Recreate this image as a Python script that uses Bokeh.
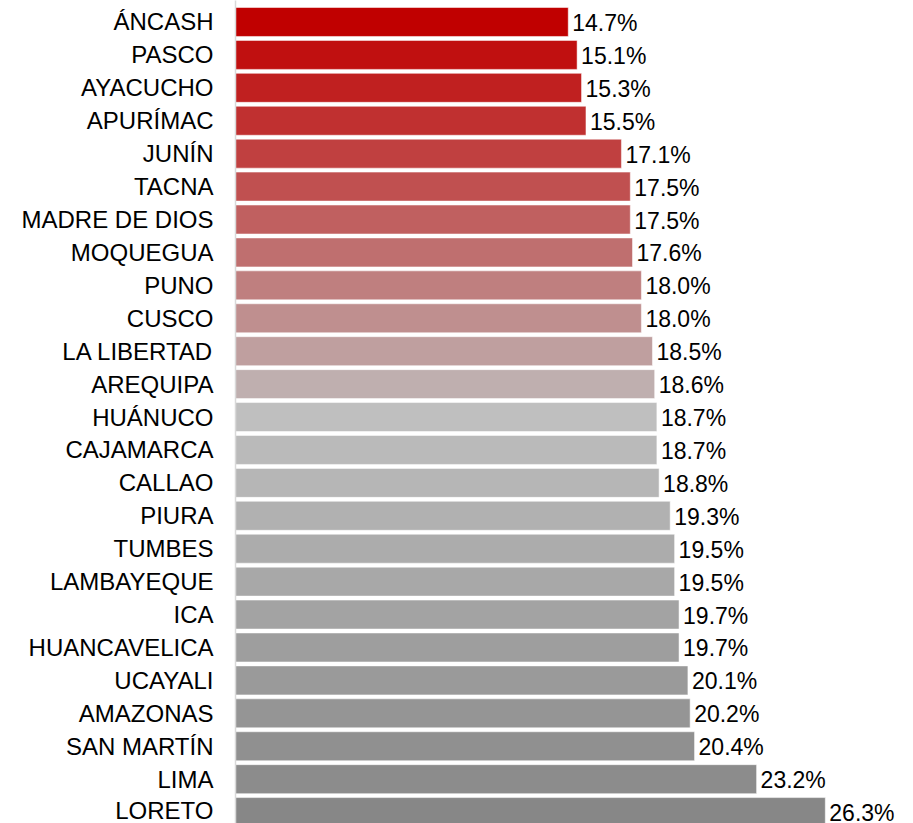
from bokeh.plotting import figure
from bokeh.models import Range1d, FixedTicker, ColumnDataSource
from bokeh.embed import file_html
from bokeh.resources import INLINE
from bokeh.core.properties import value

regions = ["ÁNCASH", "PASCO", "AYACUCHO", "APURÍMAC", "JUNÍN", "TACNA",
           "MADRE DE DIOS", "MOQUEGUA", "PUNO", "CUSCO", "LA LIBERTAD",
           "AREQUIPA", "HUÁNUCO", "CAJAMARCA", "CALLAO", "PIURA", "TUMBES",
           "LAMBAYEQUE", "ICA", "HUANCAVELICA", "UCAYALI", "AMAZONAS",
           "SAN MARTÍN", "LIMA", "LORETO"]
values = [14.7, 15.1, 15.3, 15.5, 17.1, 17.5, 17.5, 17.6, 18.0, 18.0, 18.5,
          18.6, 18.7, 18.7, 18.8, 19.3, 19.5, 19.5, 19.7, 19.7, 20.1, 20.2,
          20.4, 23.2, 26.3]
value_labels = [f"{v:.1f}%" for v in values]

# colour ramp: red -> light grey -> darker grey
def ramp(c0, c1, t):
    return tuple(round(a + (b - a) * t) for a, b in zip(c0, c1))

red, lgrey, dgrey = (192, 0, 0), (191, 191, 191), (135, 135, 135)
n = len(regions)
mid = 12
colors = []
for i in range(n):
    if i <= mid:
        c = ramp(red, lgrey, i / mid)
    else:
        c = ramp(lgrey, dgrey, (i - mid) / (n - 1 - mid))
    colors.append("#%02x%02x%02x" % c)

ys = list(range(n))
src = ColumnDataSource(dict(y=ys, v=values, lab=value_labels, color=colors))

BASE = -0.316
p = figure(width=913, height=823, output_backend="svg", toolbar_location=None,
           x_range=Range1d(BASE, 30.28), y_range=Range1d(24.347, -0.653),
           min_border_left=235, min_border_right=0, min_border_top=0,
           min_border_bottom=0, x_axis_location=None)
p.outline_line_color = None
p.xgrid.visible = False
p.ygrid.visible = False
p.background_fill_color = "white"
p.border_fill_color = "white"

p.hbar(y="y", left=BASE, right="v", height=0.88, fill_color="color",
       line_color="white", line_alpha=0.5, line_width=1, source=src)
p.text(x="v", y="y", text="lab", x_offset=4, y_offset=1,
       text_font=value("Liberation Sans"), text_font_size="23px",
       text_baseline="middle", text_align="left", text_color="black",
       source=src)

ax = p.yaxis[0]
ax.ticker = FixedTicker(ticks=ys)
ax.major_label_overrides = {i: r for i, r in zip(ys, regions)}
ax.major_tick_in = 0
ax.major_tick_out = 0
ax.minor_tick_in = 0
ax.minor_tick_out = 0
ax.major_label_standoff = 22
ax.axis_line_color = "#D9D9D9"
ax.axis_line_width = 1.5
ax.major_label_text_font = "Liberation Sans"
ax.major_label_text_font_size = "24px"
ax.major_label_text_color = "black"

open("out.html", "w").write(file_html(p, INLINE))
